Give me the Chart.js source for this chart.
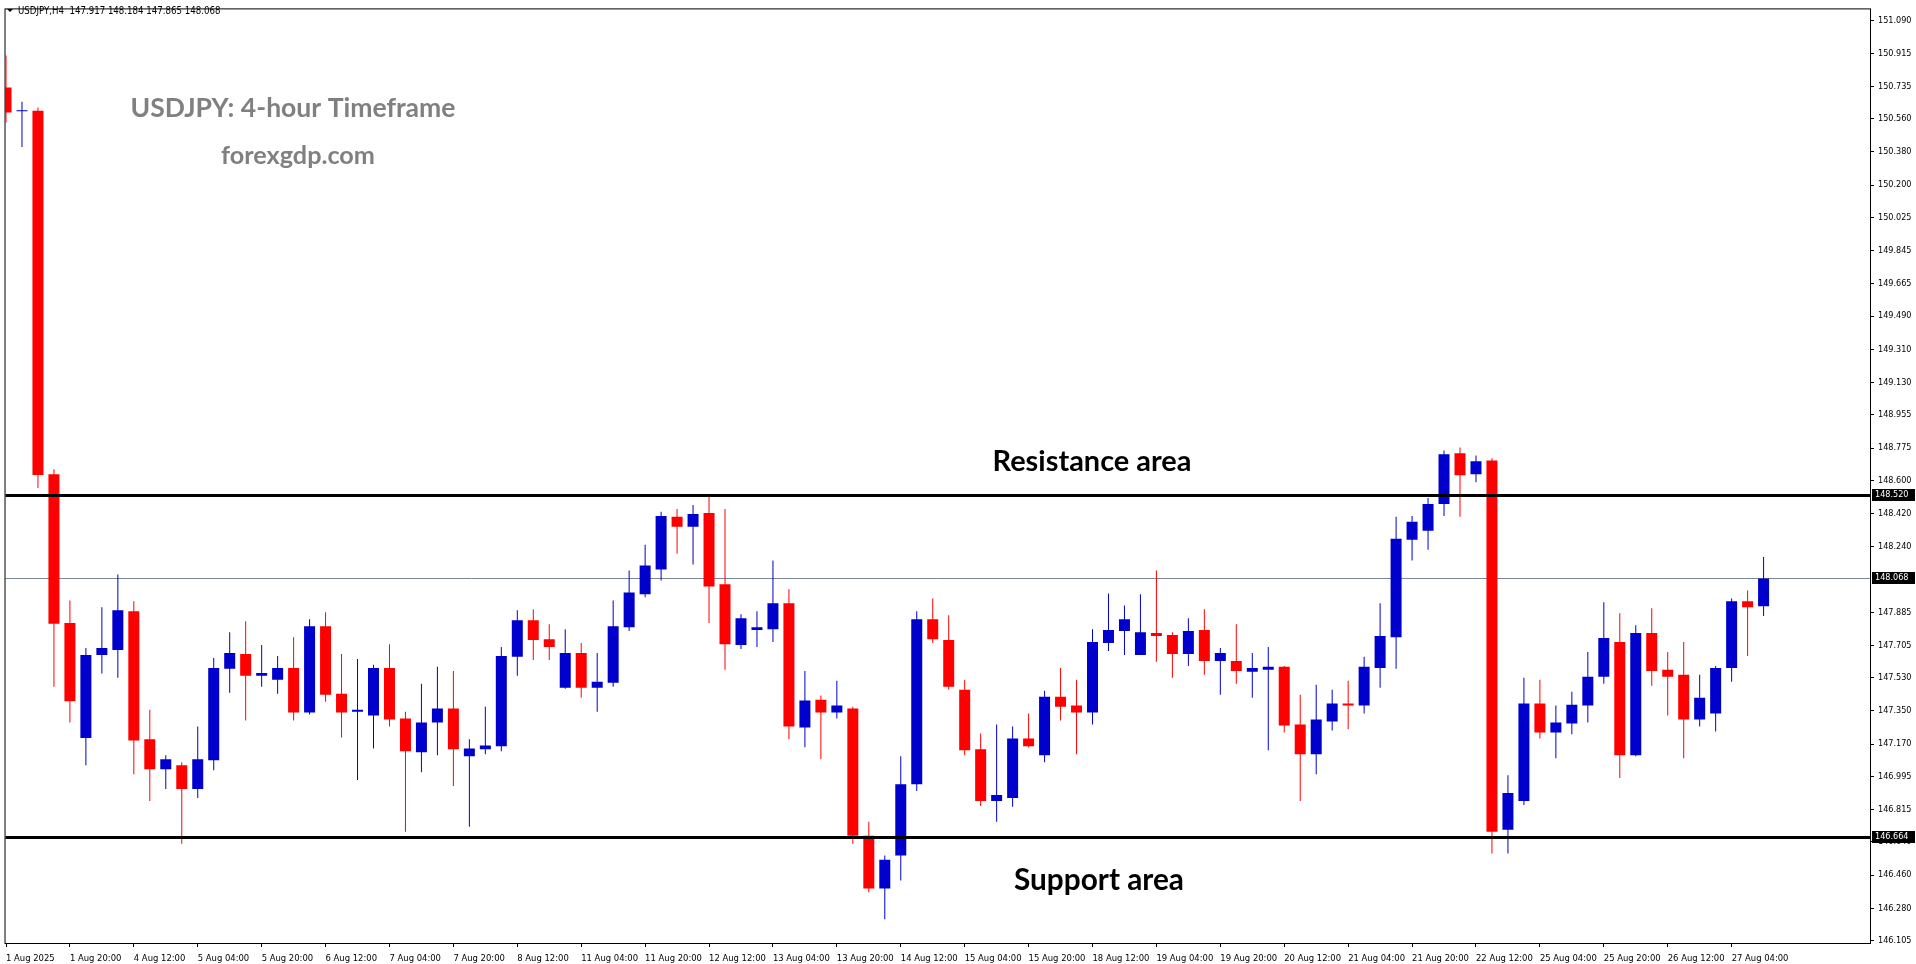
<!DOCTYPE html>
<html>
<head>
<meta charset="utf-8">
<title>USDJPY H4</title>
<script src="https://cdn.jsdelivr.net/npm/chart.js@4.4.1/dist/chart.umd.min.js"></script>
<style>
  html, body { margin: 0; padding: 0; background: #fff; }
  #wrap { width: 1916px; height: 964px; }
</style>
</head>
<body>
<div id="wrap"><canvas id="candleChart" width="1916" height="964"></canvas></div>
<script>
const symbolName = "USDJPY,H4";

// H4 bars, 1 Aug 04:00 -> 27 Aug 12:00
const opens = [150.729, 150.600, 150.603, 148.633, 147.826, 147.203, 147.653, 147.680, 147.890, 147.196,
  147.034, 147.056, 146.927, 147.083, 147.578, 147.659, 147.540, 147.519, 147.583, 147.341,
  147.809, 147.443, 147.346, 147.325, 147.583, 147.309, 147.126, 147.287, 147.363, 147.104,
  147.142, 147.158, 147.643, 147.842, 147.739, 147.476, 147.664, 147.476, 147.503, 147.804,
  147.982, 148.116, 148.402, 148.348, 148.423, 148.036, 147.707, 147.788, 147.793, 147.933,
  147.260, 147.411, 147.341, 147.363, 146.674, 146.388, 146.566, 146.953, 147.847, 147.734,
  147.465, 147.142, 146.862, 146.878, 147.201, 147.110, 147.427, 147.379, 147.341, 147.718,
  147.783, 147.653, 147.772, 147.761, 147.659, 147.788, 147.621, 147.621, 147.562, 147.573,
  147.589, 147.277, 147.115, 147.293, 147.390, 147.379, 147.583, 147.750, 148.278, 148.326,
  148.472, 148.746, 148.633, 148.708, 146.706, 146.862, 147.390, 147.233, 147.282, 147.379,
  147.535, 147.723, 147.110, 147.772, 147.573, 147.546, 147.303, 147.336, 147.583, 147.944,
  147.917];
const highs = [150.903, 150.652, 150.621, 148.660, 147.949, 147.691, 147.912, 148.089, 147.944, 147.357,
  147.110, 147.072, 147.266, 147.637, 147.777, 147.836, 147.707, 147.648, 147.750, 147.847,
  147.885, 147.659, 147.632, 147.600, 147.712, 147.346, 147.497, 147.589, 147.567, 147.196,
  147.373, 147.696, 147.896, 147.901, 147.820, 147.793, 147.718, 147.664, 147.949, 148.111,
  148.251, 148.429, 148.445, 148.466, 148.509, 148.445, 147.874, 147.890, 148.165, 148.009,
  147.567, 147.433, 147.513, 147.373, 146.749, 146.566, 147.104, 147.890, 147.960, 147.869,
  147.519, 147.228, 147.277, 147.266, 147.336, 147.460, 147.583, 147.519, 147.793, 147.987,
  147.922, 147.982, 148.111, 147.777, 147.852, 147.901, 147.691, 147.820, 147.664, 147.696,
  147.594, 147.438, 147.492, 147.465, 147.513, 147.643, 147.933, 148.402, 148.407, 148.504,
  148.762, 148.778, 148.735, 148.719, 147.002, 147.530, 147.519, 147.379, 147.454, 147.669,
  147.939, 147.879, 147.815, 147.906, 147.669, 147.723, 147.546, 147.594, 147.960, 148.003,
  148.184];
const lows = [150.540, 150.406, 148.558, 147.481, 147.287, 147.056, 147.553, 147.530, 147.007, 146.862,
  146.927, 146.630, 146.878, 147.029, 147.449, 147.298, 147.481, 147.443, 147.298, 147.330,
  147.400, 147.206, 146.975, 147.147, 147.266, 146.695, 147.018, 147.110, 146.943, 146.722,
  147.115, 147.131, 147.540, 147.626, 147.626, 147.470, 147.422, 147.346, 147.481, 147.783,
  147.966, 148.057, 148.202, 148.143, 147.826, 147.573, 147.686, 147.696, 147.723, 147.196,
  147.153, 147.088, 147.309, 146.630, 146.367, 146.221, 146.431, 146.916, 147.718, 147.465,
  147.110, 146.835, 146.749, 146.830, 147.153, 147.072, 147.298, 147.115, 147.277, 147.675,
  147.653, 147.653, 147.616, 147.530, 147.594, 147.546, 147.438, 147.497, 147.422, 147.137,
  147.233, 146.862, 147.007, 147.244, 147.250, 147.336, 147.476, 147.578, 148.165, 148.224,
  148.407, 148.402, 148.590, 146.577, 146.577, 146.840, 147.201, 147.093, 147.223, 147.287,
  147.497, 146.986, 147.105, 147.486, 147.325, 147.093, 147.266, 147.239, 147.508, 147.648,
  147.865];
const closes = [150.594, 150.606, 148.629, 147.822, 147.402, 147.653, 147.691, 147.896, 147.190, 147.034,
  147.088, 146.927, 147.088, 147.583, 147.664, 147.540, 147.556, 147.583, 147.341, 147.809,
  147.438, 147.341, 147.357, 147.583, 147.303, 147.131, 147.287, 147.363, 147.142, 147.147,
  147.163, 147.648, 147.842, 147.734, 147.696, 147.664, 147.476, 147.508, 147.809, 147.992,
  148.138, 148.407, 148.348, 148.418, 148.025, 147.712, 147.852, 147.804, 147.933, 147.266,
  147.406, 147.341, 147.379, 146.674, 146.388, 146.544, 146.953, 147.847, 147.739, 147.481,
  147.137, 146.862, 146.894, 147.201, 147.158, 147.427, 147.373, 147.341, 147.723, 147.788,
  147.847, 147.777, 147.756, 147.659, 147.783, 147.621, 147.664, 147.567, 147.583, 147.589,
  147.271, 147.115, 147.303, 147.390, 147.379, 147.589, 147.756, 148.283, 148.375, 148.472,
  148.741, 148.628, 148.703, 146.695, 146.905, 147.390, 147.233, 147.287, 147.384, 147.535,
  147.745, 147.110, 147.772, 147.567, 147.535, 147.303, 147.422, 147.583, 147.944, 147.912,
  148.068];

// one time label every 4 bars
const timeLabels = ["1 Aug 2025", "1 Aug 20:00", "4 Aug 12:00", "5 Aug 04:00", "5 Aug 20:00", "6 Aug 12:00",
  "7 Aug 04:00", "7 Aug 20:00", "8 Aug 12:00", "11 Aug 04:00", "11 Aug 20:00", "12 Aug 12:00",
  "13 Aug 04:00", "13 Aug 20:00", "14 Aug 12:00", "15 Aug 04:00", "15 Aug 20:00", "18 Aug 12:00",
  "19 Aug 04:00", "19 Aug 20:00", "20 Aug 12:00", "21 Aug 04:00", "21 Aug 20:00", "22 Aug 12:00",
  "25 Aug 04:00", "25 Aug 20:00", "26 Aug 12:00", "27 Aug 04:00"];
const barsPerLabel = 4;

const priceTicks = [151.090, 150.915, 150.735, 150.560, 150.380, 150.200, 150.025, 149.845, 149.665,
  149.490, 149.310, 149.130, 148.955, 148.775, 148.600, 148.420, 148.240, 147.885, 147.705,
  147.530, 147.350, 147.170, 146.995, 146.815, 146.640, 146.460, 146.280, 146.105];

const resistanceLevel = 148.520;
const supportLevel = 146.664;

const upColor = "#0000cc";
const downColor = "#ff0000";
const axisFont = "'DejaVu Sans Condensed', 'Liberation Sans', sans-serif";

const candleColor = (i) => (closes[i] >= opens[i] ? upColor : downColor);
const bodyData = opens.map((o, i) => ({ x: i, y: [o, closes[i]] }));
const wickData = lows.map((l, i) => ({ x: i, y: [l, highs[i]] }));
const lastClose = closes[closes.length - 1];

function boldText(ctx, text, cx, baseline, width, color) {
  ctx.font = "bold 100px Lato";
  const size = (100 * width) / ctx.measureText(text).width;
  ctx.font = "bold " + size.toFixed(2) + "px Lato";
  ctx.fillStyle = color;
  ctx.textAlign = "center";
  ctx.textBaseline = "alphabetic";
  ctx.fillText(text, cx, baseline);
}

function priceBox(ctx, x, y, text) {
  const yy = Math.round(y);
  ctx.fillStyle = "#000";
  ctx.fillRect(x + 2, yy - 6, 43, 12);
  ctx.fillStyle = "#fff";
  ctx.font = "9px " + axisFont;
  ctx.textAlign = "left";
  ctx.textBaseline = "middle";
  ctx.fillText(text, x + 5, yy);
}

function hLine(ctx, area, y, width, color) {
  ctx.strokeStyle = color;
  ctx.lineWidth = width;
  const yy = width % 2 ? Math.round(y) + 0.5 : Math.round(y);
  ctx.beginPath();
  ctx.moveTo(area.left, yy);
  ctx.lineTo(area.right, yy);
  ctx.stroke();
}

const overlayPlugin = {
  id: "overlay",
  beforeDatasetsDraw(chart) {
    const { ctx, chartArea, scales } = chart;
    ctx.save();
    hLine(ctx, chartArea, scales.y.getPixelForValue(lastClose), 1, "#778899");
    ctx.restore();
  },
  afterDatasetsDraw(chart) {
    const { ctx, chartArea, scales } = chart;
    ctx.save();
    hLine(ctx, chartArea, scales.y.getPixelForValue(resistanceLevel), 3, "#000");
    hLine(ctx, chartArea, scales.y.getPixelForValue(supportLevel), 3, "#000");
    boldText(ctx, "USDJPY: 4-hour Timeframe", 293, 117, 325, "#808080");
    boldText(ctx, "forexgdp.com", 298, 164, 154, "#808080");
    boldText(ctx, "Resistance area", 1092, 471, 199, "#000");
    boldText(ctx, "Support area", 1099, 890, 170, "#000");
    ctx.restore();
  },
  afterDraw(chart) {
    const { ctx, chartArea, scales } = chart;
    ctx.save();
    ctx.strokeStyle = "#000";
    ctx.lineWidth = 1;
    ctx.strokeRect(chartArea.left - 0.5, chartArea.top - 0.5,
      chartArea.right - chartArea.left + 1, chartArea.bottom - chartArea.top + 1);

    priceBox(ctx, chartArea.right, scales.y.getPixelForValue(resistanceLevel), resistanceLevel.toFixed(3));
    priceBox(ctx, chartArea.right, scales.y.getPixelForValue(lastClose), lastClose.toFixed(3));
    priceBox(ctx, chartArea.right, scales.y.getPixelForValue(supportLevel), supportLevel.toFixed(3));

    // header: symbol + last bar OHLC
    const n = closes.length - 1;
    ctx.fillStyle = "#000";
    ctx.beginPath();
    ctx.moveTo(7, 9);
    ctx.lineTo(13, 9);
    ctx.lineTo(10, 12);
    ctx.closePath();
    ctx.fill();
    ctx.font = "9.6px " + axisFont;
    ctx.textAlign = "left";
    ctx.textBaseline = "alphabetic";
    const header = symbolName + "  " + [opens[n], highs[n], lows[n], closes[n]].map((v) => v.toFixed(3)).join(" ");
    ctx.fillText(header, 18, 14);
    ctx.restore();
  },
};

const candleChart = new Chart(document.getElementById("candleChart"), {
  type: "bar",
  data: {
    datasets: [
      {
        label: "wick",
        data: wickData,
        barThickness: 1,
        grouped: false,
        inflateAmount: 0,
        borderWidth: 0,
        backgroundColor: (c) => candleColor(c.dataIndex),
        order: 2,
      },
      {
        label: "body",
        data: bodyData,
        barThickness: 11,
        minBarLength: 1,
        grouped: false,
        inflateAmount: 0,
        borderWidth: 0,
        backgroundColor: (c) => candleColor(c.dataIndex),
        order: 1,
      },
    ],
  },
  options: {
    responsive: false,
    animation: false,
    layout: { padding: { left: 3, top: 3, right: 0, bottom: 0 } },
    plugins: { legend: { display: false }, tooltip: { enabled: false } },
    scales: {
      x: {
        type: "linear",
        min: -0.03,
        max: 116.66,
        offset: false,
        border: { display: false },
        grid: { drawOnChartArea: false, drawTicks: true, tickLength: 4, color: "#000", offset: false },
        ticks: {
          align: "start",
          padding: 6,
          maxRotation: 0,
          autoSkip: false,
          color: "#000",
          font: { family: axisFont, size: 9.4 },
          callback: (v) => timeLabels[Math.round(v / barsPerLabel)],
        },
        afterBuildTicks: (s) => {
          s.ticks = timeLabels.map((t, k) => ({ value: k * barsPerLabel }));
        },
        afterFit: (s) => {
          s.height = 21;
        },
      },
      y: {
        position: "right",
        min: 146.0921,
        max: 151.1524,
        border: { display: false },
        grid: { drawOnChartArea: false, drawTicks: true, tickLength: 4, color: "#000" },
        ticks: {
          padding: 4,
          color: "#000",
          font: { family: axisFont, size: 9 },
          callback: (v) => Number(v).toFixed(3),
        },
        afterBuildTicks: (s) => {
          s.ticks = priceTicks.map((v) => ({ value: v }));
        },
        afterFit: (s) => {
          s.width = 46;
        },
      },
    },
  },
  plugins: [overlayPlugin],
});
</script>
</body>
</html>
